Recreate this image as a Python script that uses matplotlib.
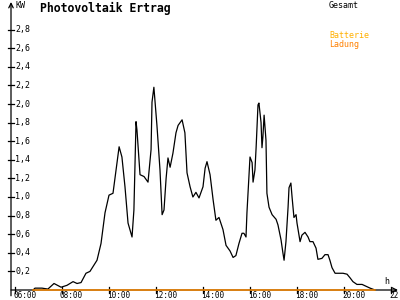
import matplotlib
matplotlib.use("Agg")
import matplotlib.pyplot as plt

# Data (hours of day, kW)
hours = [6.77, 6.85, 7.15, 7.40, 7.66, 7.96, 8.21, 8.47, 8.64, 8.81, 9.02, 9.19, 9.49, 9.66,
         9.83, 10.00, 10.17, 10.30, 10.43, 10.55, 10.68, 10.81, 10.98, 11.06, 11.15, 11.19,
         11.32, 11.49, 11.66, 11.79, 11.83, 11.91, 12.04, 12.17, 12.26, 12.34, 12.43, 12.51,
         12.60, 12.72, 12.85, 12.94, 13.11, 13.23, 13.32, 13.45, 13.57, 13.70, 13.83, 14.00,
         14.09, 14.17, 14.30, 14.43, 14.55, 14.68, 14.85, 14.98, 15.15, 15.28, 15.40, 15.53,
         15.66, 15.74, 15.83, 15.87, 16.00, 16.09, 16.13, 16.21, 16.26, 16.34, 16.38, 16.47,
         16.51, 16.55, 16.60, 16.68, 16.72, 16.81, 16.94, 17.11, 17.19, 17.32, 17.40, 17.45,
         17.53, 17.62, 17.66, 17.74, 17.79, 17.87, 17.96, 18.00, 18.13, 18.21, 18.34, 18.47,
         18.55, 18.68, 18.81, 18.89, 19.06, 19.19, 19.32, 19.40, 19.49, 19.62, 19.74, 19.96,
         20.13, 20.26, 20.38, 20.55, 20.77, 20.94, 21.11, 21.32]
gesamt = [0.00, 0.02, 0.02, 0.01, 0.07, 0.03, 0.05, 0.09, 0.07, 0.08, 0.18, 0.20, 0.32, 0.50,
          0.83, 1.02, 1.04, 1.29, 1.54, 1.43, 1.11, 0.72, 0.57, 0.86, 1.81, 1.72,
          1.24, 1.22, 1.16, 1.51, 2.02, 2.18, 1.77, 1.29, 0.81, 0.86, 1.20, 1.42,
          1.32, 1.47, 1.69, 1.77, 1.83, 1.69, 1.26, 1.11, 1.00, 1.05, 0.99, 1.11,
          1.31, 1.38, 1.24, 0.97, 0.75, 0.78, 0.65, 0.48, 0.42, 0.35, 0.37, 0.50,
          0.61, 0.61, 0.57, 0.83, 1.43, 1.37, 1.16, 1.29, 1.53, 1.99, 2.01, 1.80,
          1.53, 1.65, 1.88, 1.61, 1.04, 0.89, 0.81, 0.76, 0.70, 0.54, 0.40, 0.32,
          0.52, 0.89, 1.10, 1.15, 1.00, 0.78, 0.81, 0.72, 0.52, 0.59, 0.62, 0.57,
          0.52, 0.52, 0.45, 0.33, 0.34, 0.38, 0.38, 0.32, 0.24, 0.18, 0.18, 0.18,
          0.17, 0.13, 0.09, 0.06, 0.06, 0.04, 0.02, 0.00]
ladung = [0.0 for _ in hours]

ytick_vals = [0.2, 0.4, 0.6, 0.8, 1.0, 1.2, 1.4, 1.6, 1.8, 2.0, 2.2, 2.4, 2.6, 2.8]
ytick_labels = ["0,2", "0,4", "0,6", "0,8", "1,0", "1,2", "1,4", "1,6", "1,8", "2,0",
                "2,2", "2,4", "2,6", "2,8"]
xtick_vals = [6, 8, 10, 12, 14, 16, 18, 20, 22]
xtick_labels = ["06:00", "08:00", "10:00", "12:00", "14:00", "16:00", "18:00", "20:00", "22:00"]

W, H = 400, 300
fig = plt.figure(figsize=(4, 3), dpi=100)
fig.patch.set_facecolor("white")

ax_l, ax_r, ax_t, ax_b = 11, 398, 2, 290
ax = fig.add_axes([ax_l / W, 1 - ax_b / H, (ax_r - ax_l) / W, (ax_b - ax_t) / H])
ax.set_facecolor("white")
x0 = 6 + (ax_l - 15) / 23.5
x1 = 6 + (ax_r - 15) / 23.5
ax.set_xlim(x0, x1)
ax.set_ylim(0, (ax_b - ax_t) / 93.0)
for s in ["top", "right", "left", "bottom"]:
    ax.spines[s].set_visible(False)
ax.set_xticks([])
ax.set_yticks([])

mono = "DejaVu Sans Mono"

# axes lines with arrows
ax.annotate("", xy=(0, 1.0), xytext=(0, -0.02), xycoords="axes fraction",
            arrowprops=dict(arrowstyle="->", lw=0.9, color="black", shrinkA=0, shrinkB=0,
                            mutation_scale=8), annotation_clip=False)
ax.annotate("", xy=(1.0, 0), xytext=(0, 0), xycoords="axes fraction",
            arrowprops=dict(arrowstyle="->", lw=0.9, color="black", shrinkA=0, shrinkB=0,
                            mutation_scale=8), annotation_clip=False)

# y ticks (crossing marks) and labels
ytr = ax.get_yaxis_transform()
dx = 3.0 / (ax_r - ax_l)
for v, lab in zip(ytick_vals, ytick_labels):
    ax.plot([-dx, dx], [v, v], color="black", lw=0.9, transform=ytr, clip_on=False)
    ax.text(4.0 / (ax_r - ax_l), v, lab, transform=ytr, ha="left", va="center",
            fontsize=6, family=mono, color="black")

# x ticks and labels
xtr = ax.get_xaxis_transform()
dy = 3.0 / (ax_b - ax_t)
for v, lab in zip(xtick_vals, xtick_labels):
    ax.plot([v, v], [-dy, dy], color="black", lw=0.9, transform=xtr, clip_on=False)
    ax.text(v - 2 / 23.5, -6.0 / (ax_b - ax_t), lab, transform=xtr, ha="left", va="center",
            fontsize=5.6, family=mono, color="black", clip_on=False)

# data
ax.plot(hours, gesamt, color="black", lw=0.9, clip_on=False)
ax.plot(hours, ladung, color="#ff8c00", lw=1.1, clip_on=False, zorder=5)

# texts
fig.text(15 / W, 1 - 6 / H, "KW", fontsize=6, family=mono, ha="left", va="center")
fig.text(40 / W, 1 - 8 / H, "Photovoltaik Ertrag", fontsize=8.3, family=mono,
         fontweight="bold", ha="left", va="center")
fig.text(329 / W, 1 - 5 / H, "Gesamt", fontsize=6, family=mono, ha="left", va="center")
fig.text(329 / W, 1 - 36 / H, "Batterie", fontsize=6, family=mono, ha="left", va="center",
         color="#ffb000")
fig.text(329 / W, 1 - 44 / H, "Ladung", fontsize=6, family=mono, ha="left", va="center",
         color="#ff8000")
fig.text(387 / W, 1 - 281 / H, "h", fontsize=6, family=mono, ha="center", va="center")

fig.savefig("out.png", dpi=100, facecolor="white")
